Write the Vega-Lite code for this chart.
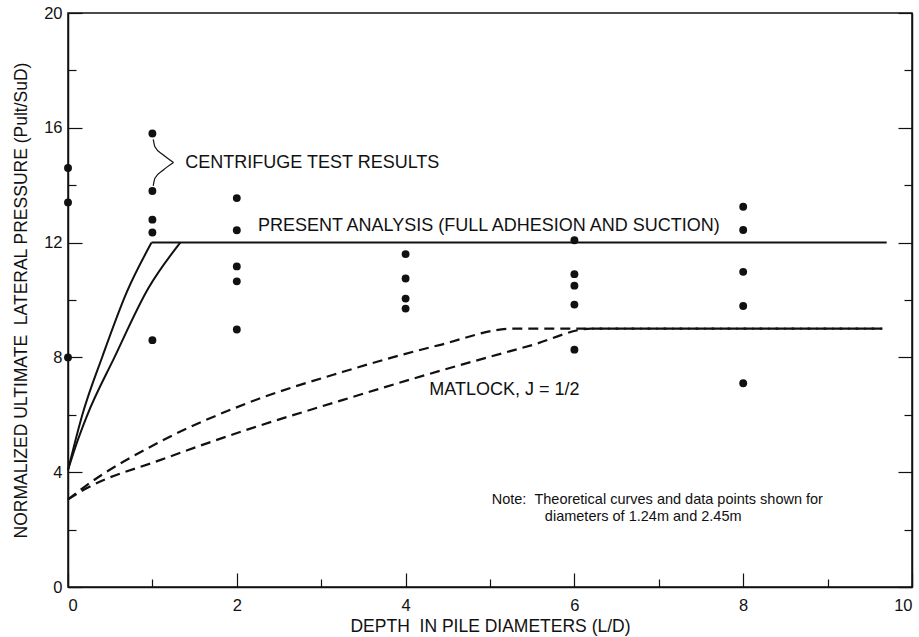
{
  "$schema": "https://vega.github.io/schema/vega-lite/v6.json",
  "width": 844,
  "height": 574,
  "autosize": "none",
  "padding": {"left": 68, "top": 13, "right": 7, "bottom": 50},
  "background": "white",
  "config": {
    "font": "Liberation Sans",
    "view": {"stroke": "#111", "strokeWidth": 1.5},
    "axis": {
      "grid": false,
      "domainColor": "#111",
      "domainWidth": 1.5,
      "tickColor": "#111",
      "tickWidth": 1.2,
      "labelFont": "Liberation Sans",
      "labelFontSize": 16.5,
      "labelColor": "#111",
      "titleFont": "Liberation Sans",
      "titleFontWeight": "normal",
      "titleColor": "#111"
    }
  },
  "datasets": {
    "tests": [
      {"depth": 0, "pressure": 14.6},
      {"depth": 0, "pressure": 13.4},
      {"depth": 0, "pressure": 8.0},
      {"depth": 1, "pressure": 15.8},
      {"depth": 1, "pressure": 13.8},
      {"depth": 1, "pressure": 12.8},
      {"depth": 1, "pressure": 12.35},
      {"depth": 1, "pressure": 8.6},
      {"depth": 2, "pressure": 13.55},
      {"depth": 2, "pressure": 12.43},
      {"depth": 2, "pressure": 11.17},
      {"depth": 2, "pressure": 10.65},
      {"depth": 2, "pressure": 8.97},
      {"depth": 4, "pressure": 11.6},
      {"depth": 4, "pressure": 10.75},
      {"depth": 4, "pressure": 10.05},
      {"depth": 4, "pressure": 9.7},
      {"depth": 6, "pressure": 12.08},
      {"depth": 6, "pressure": 10.9},
      {"depth": 6, "pressure": 10.5},
      {"depth": 6, "pressure": 9.84},
      {"depth": 6, "pressure": 8.27},
      {"depth": 8, "pressure": 13.25},
      {"depth": 8, "pressure": 12.44},
      {"depth": 8, "pressure": 10.98},
      {"depth": 8, "pressure": 9.79},
      {"depth": 8, "pressure": 7.1}
    ],
    "present": [
      {"segment": "rise 1.24m", "depth": 0, "pressure": 4.08},
      {"segment": "rise 1.24m", "depth": 0.07, "pressure": 4.9},
      {"segment": "rise 1.24m", "depth": 0.17, "pressure": 6.0},
      {"segment": "rise 1.24m", "depth": 0.41, "pressure": 8.05},
      {"segment": "rise 1.24m", "depth": 0.7, "pressure": 10.3},
      {"segment": "rise 1.24m", "depth": 0.99, "pressure": 12.0},
      {"segment": "rise 2.45m", "depth": 0, "pressure": 4.08},
      {"segment": "rise 2.45m", "depth": 0.09, "pressure": 4.9},
      {"segment": "rise 2.45m", "depth": 0.22, "pressure": 5.93},
      {"segment": "rise 2.45m", "depth": 0.55, "pressure": 8.0},
      {"segment": "rise 2.45m", "depth": 0.95, "pressure": 10.4},
      {"segment": "rise 2.45m", "depth": 1.33, "pressure": 12.0},
      {"segment": "plateau", "depth": 0.99, "pressure": 12.0},
      {"segment": "plateau", "depth": 9.7, "pressure": 12.0}
    ],
    "matlock": [
      {"curve": "upper", "depth": 0, "pressure": 3.05},
      {"curve": "upper", "depth": 0.2, "pressure": 3.5},
      {"curve": "upper", "depth": 1.09, "pressure": 5.06},
      {"curve": "upper", "depth": 2.11, "pressure": 6.39},
      {"curve": "upper", "depth": 3.26, "pressure": 7.5},
      {"curve": "upper", "depth": 4.4, "pressure": 8.43},
      {"curve": "upper", "depth": 5.27, "pressure": 9.0},
      {"curve": "upper", "depth": 9.65, "pressure": 9.0},
      {"curve": "lower", "depth": 0, "pressure": 3.05},
      {"curve": "lower", "depth": 0.22, "pressure": 3.44},
      {"curve": "lower", "depth": 1.09, "pressure": 4.42},
      {"curve": "lower", "depth": 2.11, "pressure": 5.47},
      {"curve": "lower", "depth": 3.26, "pressure": 6.52},
      {"curve": "lower", "depth": 4.24, "pressure": 7.39},
      {"curve": "lower", "depth": 5.5, "pressure": 8.43},
      {"curve": "lower", "depth": 6.2, "pressure": 9.0},
      {"curve": "lower", "depth": 9.65, "pressure": 9.0}
    ],
    "brace": [
      {"part": "top", "depth": 1.01, "pressure": 15.6},
      {"part": "top", "depth": 1.03, "pressure": 15.34},
      {"part": "top", "depth": 1.13, "pressure": 15.05},
      {"part": "top", "depth": 1.25, "pressure": 14.79},
      {"part": "bottom", "depth": 1.01, "pressure": 13.98},
      {"part": "bottom", "depth": 1.03, "pressure": 14.24},
      {"part": "bottom", "depth": 1.13, "pressure": 14.53},
      {"part": "bottom", "depth": 1.25, "pressure": 14.79}
    ],
    "labels": [
      {"depth": 1.39, "pressure": 14.76, "size": 18, "text": "CENTRIFUGE TEST RESULTS"},
      {"depth": 2.25, "pressure": 12.58, "size": 18, "text": "PRESENT ANALYSIS (FULL ADHESION AND SUCTION)"},
      {"depth": 4.28, "pressure": 6.86, "size": 18, "text": "MATLOCK, J = 1/2"},
      {"depth": 5.02, "pressure": 3.03, "size": 14.5, "text": "Note: \u00a0Theoretical curves and data points shown for"},
      {"depth": 5.65, "pressure": 2.44, "size": 14.5, "text": "diameters of 1.24m and 2.45m"}
    ]
  },
  "resolve": {"axis": {"y": "independent", "x": "independent"}},
  "layer": [
    {
      "data": {"name": "tests"},
      "mark": {"type": "point", "filled": true, "color": "#111", "opacity": 1, "size": 62},
      "encoding": {
        "x": {
          "field": "depth", "type": "quantitative",
          "scale": {"domain": [0, 10], "nice": false},
          "axis": {
            "title": "DEPTH \u00a0IN PILE DIAMETERS (L/D)",
            "titleFontSize": 17.5,
            "values": [0, 1, 2, 3, 4, 5, 6, 7, 8, 9, 10],
            "labelExpr": "datum.value % 2 === 0 ? datum.label : ''",
            "tickSize": {"condition": {"test": "datum.value % 2 === 0", "value": -14}, "value": -8},
            "labelPadding": 24,
            "titlePadding": 4
          }
        },
        "y": {
          "field": "pressure", "type": "quantitative",
          "scale": {"domain": [0, 20], "nice": false},
          "axis": {
            "title": "NORMALIZED ULTIMATE \u00a0LATERAL PRESSURE (Pult/SuD)",
            "titleFontSize": 17.5,
            "values": [0, 2, 4, 6, 8, 10, 12, 14, 16, 18, 20],
            "labelExpr": "datum.value % 4 === 0 ? datum.label : ''",
            "tickSize": {"condition": {"test": "datum.value % 4 === 0", "value": -14}, "value": -8},
            "labelPadding": 20,
            "titlePadding": 13
          }
        }
      }
    },
    {
      "data": {"name": "present"},
      "mark": {"type": "line", "color": "#111", "strokeWidth": 2, "interpolate": "monotone"},
      "encoding": {
        "x": {"field": "depth", "type": "quantitative", "axis": null},
        "y": {
          "field": "pressure", "type": "quantitative",
          "axis": {
            "orient": "right", "title": null, "labels": false,
            "values": [0, 2, 4, 6, 8, 10, 12, 14, 16, 18, 20],
            "tickSize": {"condition": {"test": "datum.value % 4 === 0", "value": -14}, "value": -8}
          }
        },
        "detail": {"field": "segment"}
      }
    },
    {
      "data": {"name": "matlock"},
      "mark": {"type": "line", "color": "#111", "strokeWidth": 2.2, "strokeDash": [10, 6], "interpolate": "monotone"},
      "encoding": {
        "x": {"field": "depth", "type": "quantitative", "axis": null},
        "y": {"field": "pressure", "type": "quantitative", "axis": null},
        "detail": {"field": "curve"}
      }
    },
    {
      "data": {"name": "brace"},
      "mark": {"type": "line", "color": "#111", "strokeWidth": 1.2, "interpolate": "monotone"},
      "encoding": {
        "x": {"field": "depth", "type": "quantitative", "axis": null},
        "y": {"field": "pressure", "type": "quantitative", "axis": null},
        "detail": {"field": "part"}
      }
    },
    {
      "data": {"name": "labels"},
      "mark": {"type": "text", "align": "left", "baseline": "middle", "font": "Liberation Sans", "color": "#111"},
      "encoding": {
        "x": {"field": "depth", "type": "quantitative", "axis": null},
        "y": {"field": "pressure", "type": "quantitative", "axis": null},
        "text": {"field": "text"},
        "size": {"field": "size", "type": "quantitative", "scale": null, "legend": null}
      }
    }
  ]
}
